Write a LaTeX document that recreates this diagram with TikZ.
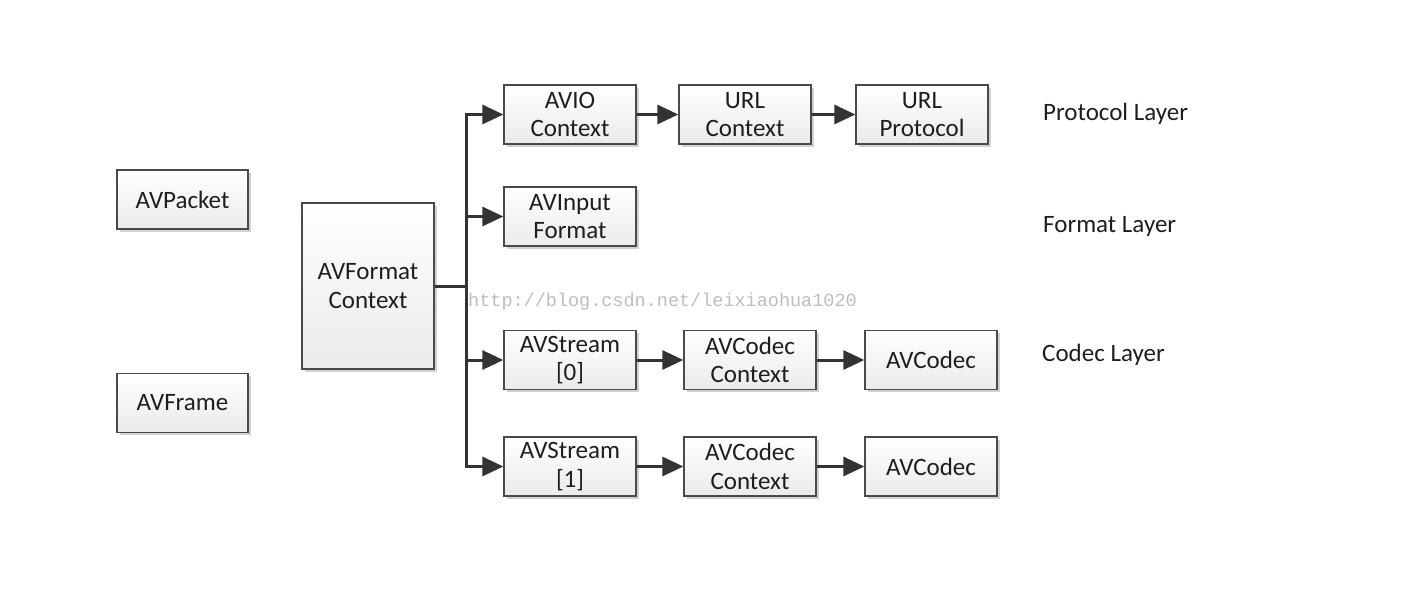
\documentclass[tikz,border=0pt]{standalone}
\usepackage{fontspec}
\setmainfont{Carlito}
\newfontfamily\wmfont{Liberation Mono}
\usetikzlibrary{arrows.meta,shadows}
\definecolor{edgec}{HTML}{4A4A4A}
\definecolor{arrc}{HTML}{333333}
\definecolor{txtc}{HTML}{1E1E1E}
\tikzset{
  boxnode/.style={draw=edgec, line width=1.3pt, rectangle, inner sep=0pt,
    top color=white, bottom color=black!8, text=txtc,
    align=center, font=\fontsize{25}{28.5}\selectfont,
    drop shadow={shadow xshift=2.5pt, shadow yshift=-2.5pt, fill=black, opacity=0.18}},
  smallbox/.style={boxnode, minimum width=132pt, minimum height=59pt},
  conn/.style={draw=arrc, line width=3pt, -{Triangle[length=21pt,width=19pt]}},
  trunk/.style={draw=arrc, line width=3pt},
  layerlabel/.style={anchor=west, text=txtc, font=\fontsize{25}{28}\selectfont, inner sep=0pt}
}
\begin{document}
\begin{tikzpicture}[x=1pt,y=-1pt]
\useasboundingbox (0,0) rectangle (1408,594);
% left boxes
\node[smallbox, minimum width=131pt] (pkt) at (182.5,199.5) {AVPacket};
\node[smallbox, minimum width=131pt] (frm) at (182.5,403) {AVFrame};
\node[boxnode, minimum width=132pt, minimum height=166pt] (fmt) at (368,286) {AVFormat\\Context};
% protocol row
\node[smallbox] (avio) at (570,114.5) {AVIO\\Context};
\node[smallbox] (urlc) at (745,114.5) {URL\\Context};
\node[smallbox] (urlp) at (922,114.5) {URL\\Protocol};
% format row
\node[smallbox] (inp) at (570,216.5) {AVInput\\Format};
% codec rows
\node[smallbox] (s0) at (570,360) {AVStream\\{[0]}};
\node[smallbox] (cc0) at (750,360) {AVCodec\\Context};
\node[smallbox] (c0) at (931,360) {AVCodec};
\node[smallbox] (s1) at (570,466.5) {AVStream\\{[1]}};
\node[smallbox] (cc1) at (750,466.5) {AVCodec\\Context};
\node[smallbox] (c1) at (931,466.5) {AVCodec};
% layer labels
\node[layerlabel] (lp) at (1043,114) {Protocol Layer};
\node[layerlabel] (lf) at (1043,226) {Format Layer};
\node[layerlabel] (lc) at (1042,355) {Codec Layer};
% watermark
\node[anchor=west, inner sep=0pt, text=black!26, font=\wmfont\fontsize{18.5}{20}\selectfont] (wm) at (468,302) {http://blog.csdn.net/leixiaohua1020};
% trunk
\coordinate (jn) at (466,286);
\coordinate (ttop) at (466,114.5);
\coordinate (t1) at (466,216.5);
\coordinate (t2) at (466,360);
\coordinate (tbot) at (466,466.5);
\draw[trunk] (fmt.east |- jn) -- (jn);
\draw[trunk] ([yshift=-1.5pt]ttop) -- ([yshift=1.5pt]tbot);
\draw[conn] ([xshift=-1.5pt]ttop) -- (avio.west);
\draw[conn] (t1) -- (inp.west);
\draw[conn] (t2) -- (s0.west);
\draw[conn] ([xshift=-1.5pt]tbot) -- (s1.west);
% row arrows
\draw[conn] (avio) -- (urlc);
\draw[conn] (urlc) -- (urlp);
\draw[conn] (s0) -- (cc0);
\draw[conn] (cc0) -- (c0);
\draw[conn] (s1) -- (cc1);
\draw[conn] (cc1) -- (c1);
\end{tikzpicture}
\end{document}
